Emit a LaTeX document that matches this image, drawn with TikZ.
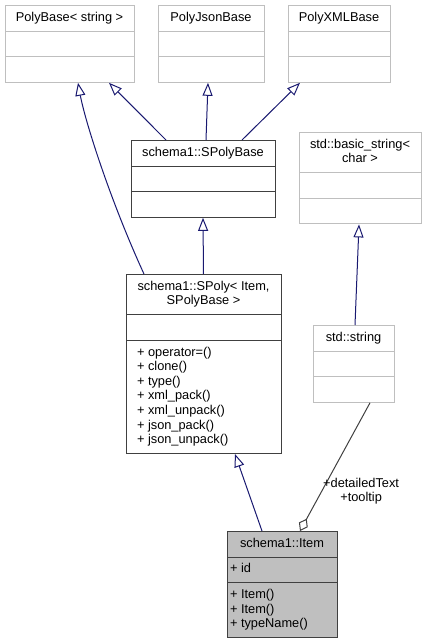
\documentclass[tikz,border=0pt]{standalone}
\usepackage{fontspec}
\setmainfont{Liberation Sans}
\usetikzlibrary{shapes.multipart,arrows.meta}
\definecolor{edgeblue}{HTML}{191970}
\definecolor{boxgray}{HTML}{BFBFBF}
\definecolor{boxdark}{HTML}{404040}
\newcommand{\classlines}[2]{\begin{tabular}{@{}#1@{}}#2\end{tabular}}
\begin{document}
\begin{tikzpicture}[x=1pt, y=-1pt,
    classbox/.style={rectangle split, rectangle split parts=3, draw=boxgray,
        line width=1pt, anchor=north, inner xsep=4pt, inner ysep=5pt,
        font=\fontsize{12.8}{14.6}\selectfont,
        rectangle split part align={center,left,left},
        rectangle split empty part height=10.22pt,
        rectangle split empty part depth=4.38pt},
    docbox/.style={classbox, draw=boxdark},
    inherit/.style={draw=edgeblue, line width=1pt,
        -{Triangle[open, length=13pt, width=10pt]}},
    member/.style={draw=boxdark, line width=1pt,
        -{Diamond[open, length=14pt, width=10pt]}}]
    \useasboundingbox (0,0) rectangle (429,643);

    % Base classes
    \node [classbox, minimum width=129pt] (polybase) at (69.5,5)
        {\strut PolyBase< string >\nodepart{two}\nodepart{three}};
    \node [classbox, minimum width=106pt] (polyjson) at (211,5)
        {\strut PolyJsonBase\nodepart{two}\nodepart{three}};
    \node [classbox, minimum width=102pt] (polyxml) at (339,5)
        {\strut PolyXMLBase\nodepart{two}\nodepart{three}};
    \node [docbox, minimum width=144pt] (spolybase) at (203,140)
        {\strut schema1::SPolyBase\nodepart{two}\nodepart{three}};
    \node [classbox, minimum width=122pt] (basicstr) at (360,132)
        {\classlines{c}{std::basic\_string<\\char >}\nodepart{two}\nodepart{three}};

    % Derived classes
    \node [docbox, minimum width=155pt, inner xsep=11pt] (spoly) at (203.5,274)
        {\classlines{c}{schema1::SPoly< Item,\\SPolyBase >}
        \nodepart{two}
        \nodepart{three}\classlines{l}{+ operator=()\\+ clone()\\+ type()\\
            + xml\_pack()\\+ xml\_unpack()\\+ json\_pack()\\+ json\_unpack()}};
    \node [classbox, minimum width=81pt] (stdstring) at (353.5,325)
        {\strut std::string\nodepart{two}\nodepart{three}};
    \node [docbox, fill=boxgray, minimum width=110pt, inner xsep=3pt] (item) at (282,531)
        {\strut schema1::Item\nodepart{two}\strut + id
        \nodepart{three}\classlines{l}{+ Item()\\+ Item()\\+ typeName()}};

    % Draw inheritance
    \draw [inherit] ([xshift=-59.5pt]spoly.north)
        .. controls +(-34,-74) and +(7,38) .. ([xshift=8.5pt]polybase.south);
    \draw [inherit] ([xshift=-37pt]spolybase.north) -- ([xshift=39.5pt]polybase.south);
    \draw [inherit] ([xshift=3pt]spolybase.north) -- ([xshift=-3pt]polyjson.south);
    \draw [inherit] ([xshift=39pt]spolybase.north) -- ([xshift=-39pt]polyxml.south);
    \draw [inherit] (spoly.north) -- (spolybase.south);
    \draw [inherit] ([xshift=1.5pt]stdstring.north) -- ([xshift=-1pt]basicstr.south);
    \draw [inherit] ([xshift=-20pt]item.north) -- ([xshift=31.5pt]spoly.south);

    % Draw usage
    \draw [member] ([xshift=16.5pt]stdstring.south)
        -- node [pos=0.69, anchor=west, align=center, inner sep=1pt,
            font=\fontsize{12.8}{14.6}\selectfont] (members) {+detailedText\\+tooltip}
        ([xshift=18pt]item.north);
\end{tikzpicture}
\end{document}
